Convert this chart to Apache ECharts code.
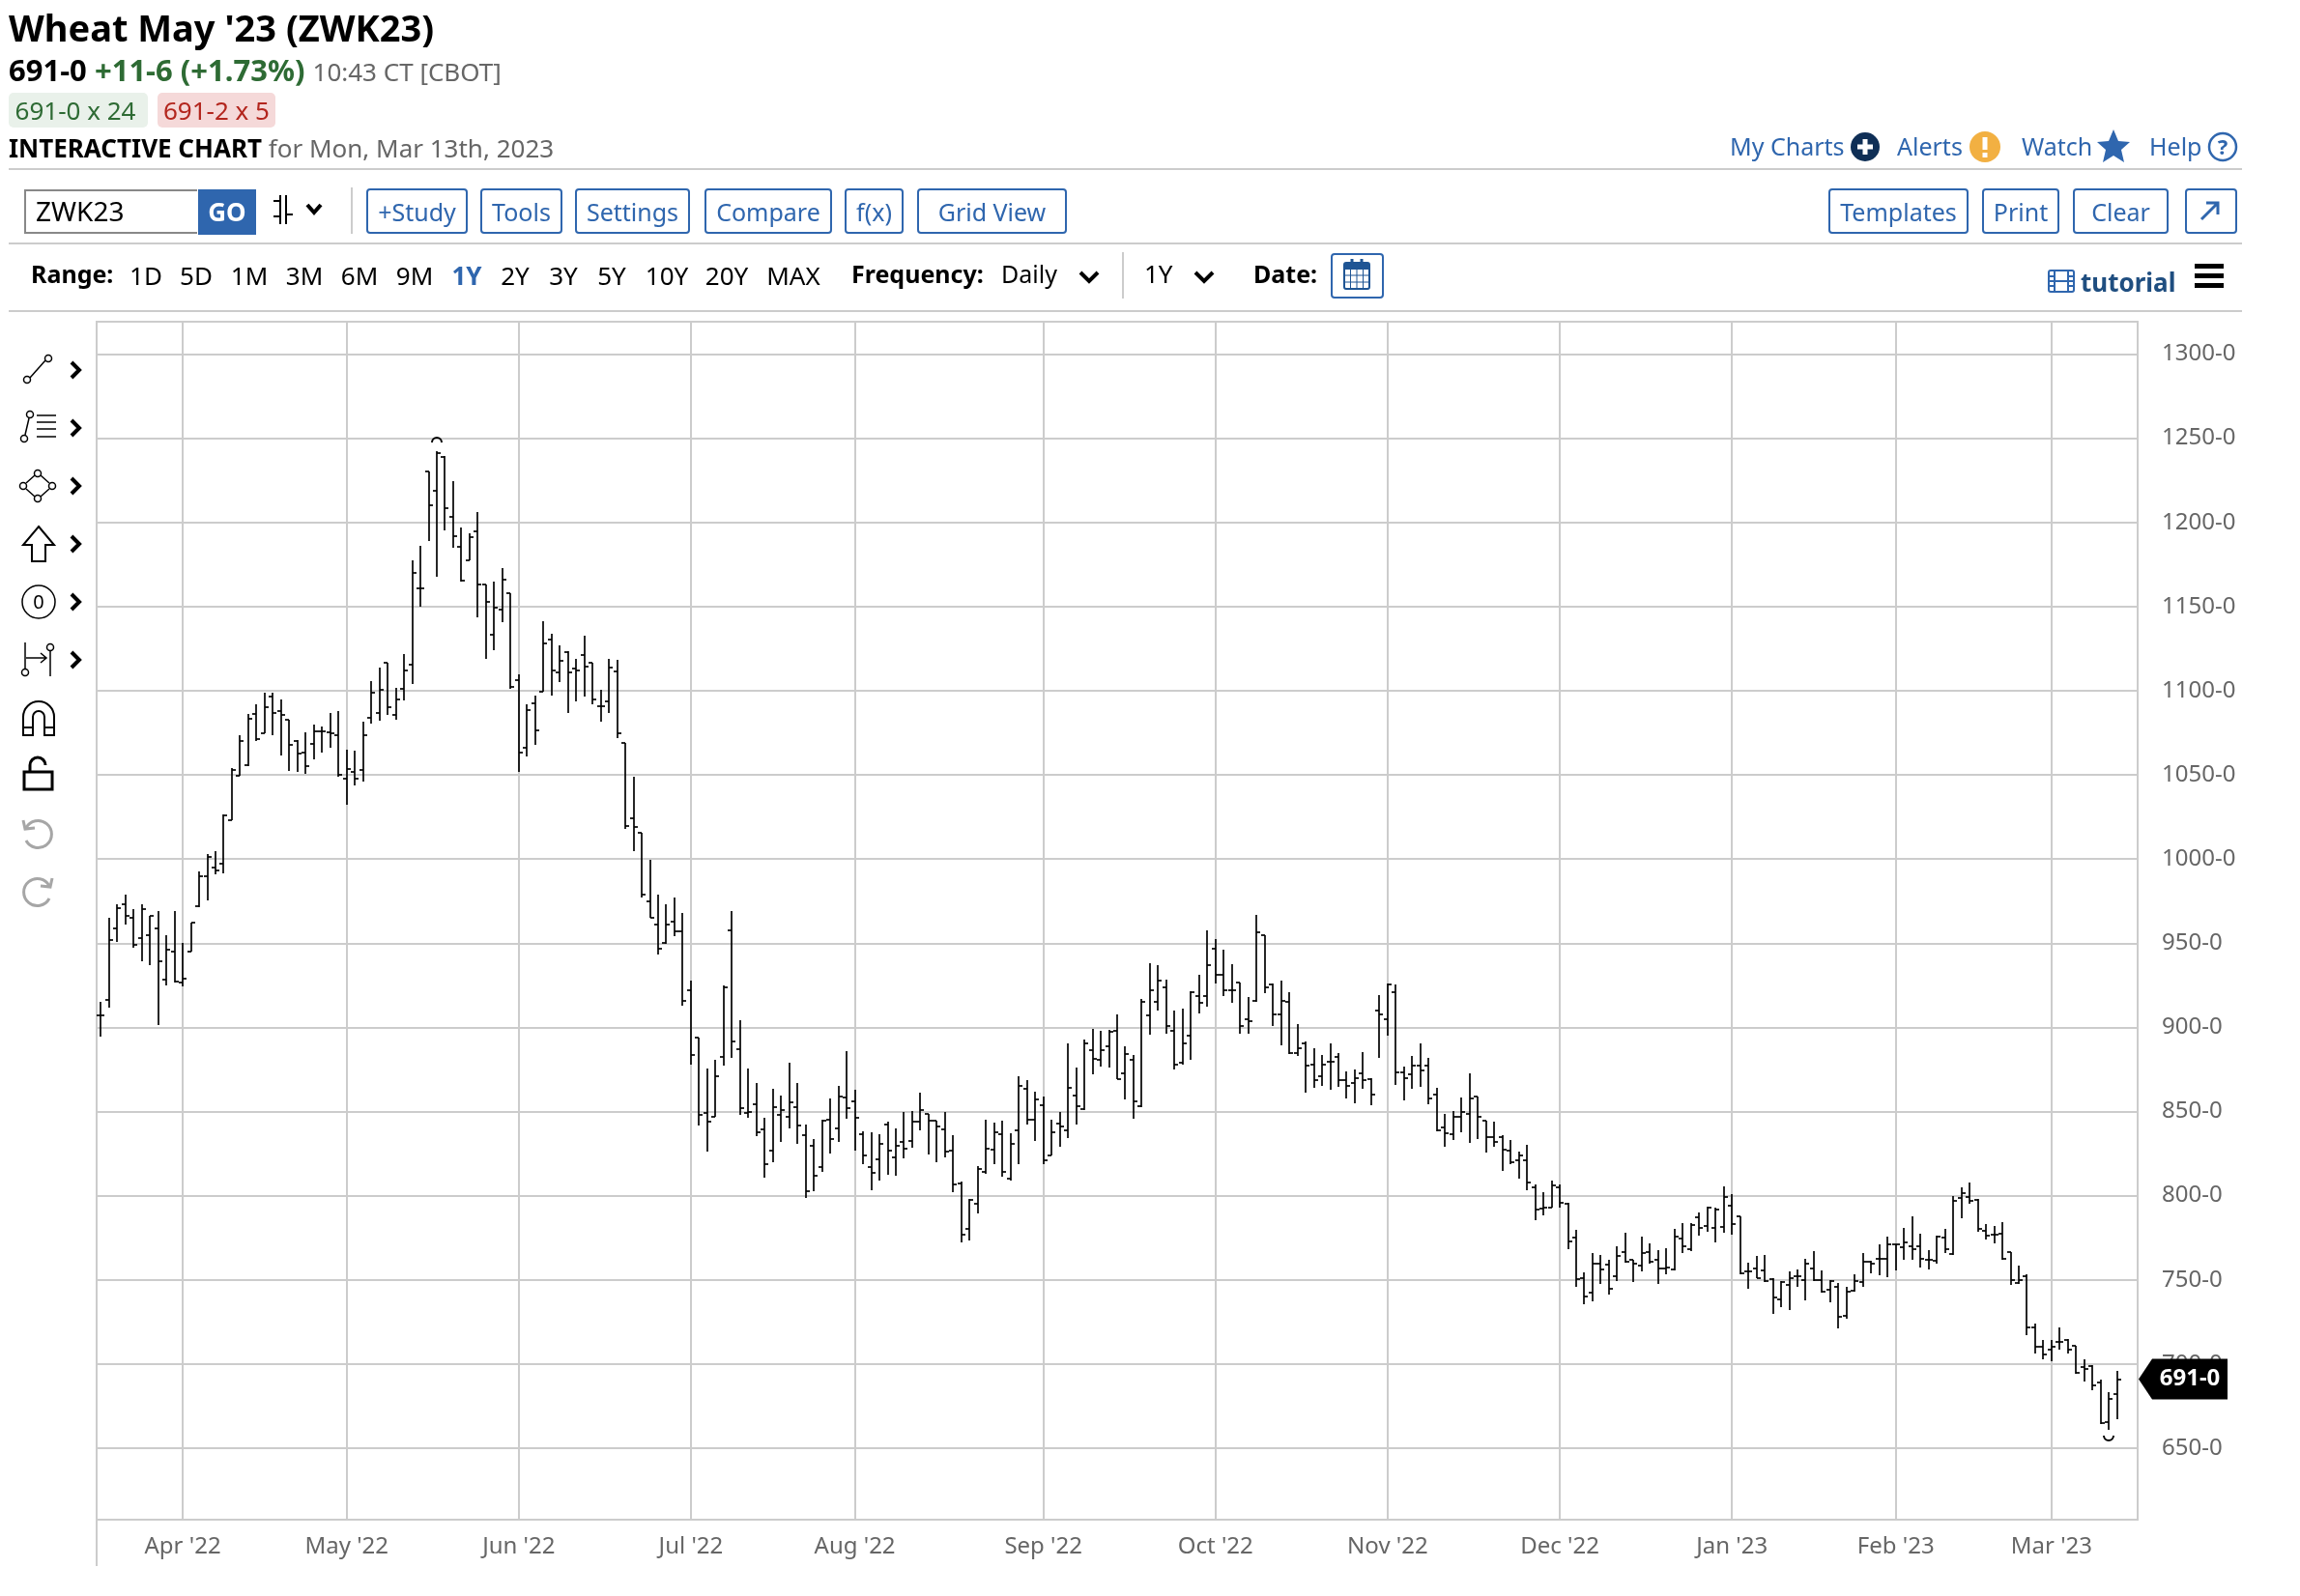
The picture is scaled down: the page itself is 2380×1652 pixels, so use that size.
<!DOCTYPE html>
<html>
<head>
<meta charset="utf-8">
<title>Wheat May '23 (ZWK23)</title>
<script src="https://cdn.jsdelivr.net/npm/echarts@6/dist/echarts.min.js"></script>
<style>
  html, body { margin: 0; padding: 0; background: #fff; }
  body { width: 2380px; height: 1652px; position: relative; overflow: hidden; font-family: "Noto Sans", sans-serif; color: #000; }
  #chart { position: absolute; left: 0; top: 0; width: 2380px; height: 1652px; }
  .t { position: absolute; white-space: nowrap; font-size: 26px; line-height: 36px; }
  .c { transform: translateX(-50%); }
  .b { font-weight: 700; }
  .grey { color: #666; }
  .blue { color: #2f66ae; }
  .hr { position: absolute; left: 9px; width: 2311px; height: 2px; background: #ccc; }
  .btn { position: absolute; top: 195px; height: 43px; border: 2px solid #2f66ae; border-radius: 4px; color: #2f66ae; font-size: 25px; line-height: 45px; text-align: center; box-sizing: content-box; }
  .chip { position: absolute; top: 96px; height: 36px; border-radius: 5px; font-size: 26px; line-height: 36px; text-align: center; }
  svg { position: absolute; overflow: visible; }
</style>
</head>
<body>
<div id="chart"></div>

<div class="t b" style="left:9px;top:3px;font-size:38px;line-height:50px">Wheat May '23 (ZWK23)</div>
<div class="t b" style="left:9px;top:51px;font-size:31px;line-height:42px">691-0 <span style="color:#2e6b34">+11-6 (+1.73%)</span> <span class="grey" style="font-weight:400;font-size:26px">10:43 CT [CBOT]</span></div>
<div class="chip" style="left:9px;width:138px;padding-right:6px;background:#e9f1ea;color:#2e6b34">691-0 x 24</div>
<div class="chip" style="left:163px;width:122px;background:#f5d9d9;color:#b3261e">691-2 x 5</div>
<div class="t" style="left:9px;top:135px"><span class="b">INTERACTIVE CHART</span> <span class="grey">for Mon, Mar 13th, 2023</span></div>

<div class="t blue" style="left:1790px;top:133px;font-size:25px">My Charts</div>
<svg style="left:1915px;top:137px" width="30" height="30"><circle cx="15" cy="15" r="15" fill="#0f2f56"/><path d="M15 7v16M7 15h16" stroke="#fff" stroke-width="5"/></svg>
<div class="t blue" style="left:1963px;top:133px;font-size:25px">Alerts</div>
<svg style="left:2038px;top:136px" width="32" height="32"><circle cx="16" cy="16" r="16" fill="#f2b042"/><path d="M16 6v13M16 22v5" stroke="#fff" stroke-width="5"/></svg>
<div class="t blue" style="left:2092px;top:133px;font-size:25px">Watch</div>
<svg style="left:2170px;top:134px" width="34" height="34"><path d="M17 0l5 12 12 1-9 8 3 13-11-7-11 7 3-13-9-8 12-1z" fill="#2f66ae"/></svg>
<div class="t blue" style="left:2224px;top:133px;font-size:25px">Help</div>
<svg style="left:2285px;top:137px" width="30" height="30"><circle cx="15" cy="15" r="14" fill="none" stroke="#2f66ae" stroke-width="2.500"/><text x="15" y="23" text-anchor="middle" font-size="22" font-weight="700" fill="#2f66ae" font-family="Noto Sans">?</text></svg>

<div class="hr" style="top:174px"></div>

<div style="position:absolute;left:25px;top:196px;width:177px;height:42px;border:2px solid #888;border-right:none"></div>
<div class="t" style="left:37px;top:200px;font-size:28px">ZWK23</div>
<div class="t b" style="left:205px;top:196px;width:60px;height:47px;background:#2f66ae;color:#fff;text-align:center;line-height:47px">GO</div>
<svg style="left:282px;top:200px" width="54" height="34"><path d="M1 24h7M8 2v30M14 2v30M14 22h7M8 8H1" stroke="#000" stroke-width="2" fill="none"/><path d="M36 12l7 8 7-8" stroke="#000" stroke-width="4" fill="none"/></svg>
<div style="position:absolute;left:363px;top:194px;width:2px;height:48px;background:#ccc"></div>
<div class="btn" style="left:379px;width:101px">+Study</div>
<div class="btn" style="left:497px;width:81px">Tools</div>
<div class="btn" style="left:595px;width:115px">Settings</div>
<div class="btn" style="left:729px;width:128px">Compare</div>
<div class="btn" style="left:874px;width:57px">f(x)</div>
<div class="btn" style="left:949px;width:151px">Grid View</div>
<div class="btn" style="left:1892px;width:141px">Templates</div>
<div class="btn" style="left:2051px;width:76px">Print</div>
<div class="btn" style="left:2145px;width:95px">Clear</div>
<div class="btn" style="left:2261px;width:50px"></div>
<svg style="left:2275px;top:207px" width="24" height="22"><path d="M3 20L19 4M8 3h12v12" stroke="#2f66ae" stroke-width="3" fill="none"/></svg>

<div class="hr" style="top:251px"></div>

<div class="t b" style="left:32px;top:265px;font-size:25px">Range:</div>
<div class="t c" style="left:151px;top:267px">1D</div>
<div class="t c" style="left:203px;top:267px">5D</div>
<div class="t c" style="left:258px;top:267px">1M</div>
<div class="t c" style="left:315px;top:267px">3M</div>
<div class="t c" style="left:372px;top:267px">6M</div>
<div class="t c" style="left:429px;top:267px">9M</div>
<div class="t c b blue" style="left:483px;top:267px">1Y</div>
<div class="t c" style="left:533px;top:267px">2Y</div>
<div class="t c" style="left:583px;top:267px">3Y</div>
<div class="t c" style="left:633px;top:267px">5Y</div>
<div class="t c" style="left:690px;top:267px">10Y</div>
<div class="t c" style="left:752px;top:267px">20Y</div>
<div class="t c" style="left:821px;top:267px">MAX</div>
<div class="t b" style="left:881px;top:265px;font-size:25px">Frequency:</div>
<div class="t" style="left:1036px;top:265px;font-size:25px">Daily</div>
<svg style="left:1116px;top:280px" width="22" height="14"><path d="M2 2l9 9 9-9" stroke="#000" stroke-width="4" fill="none"/></svg>
<div style="position:absolute;left:1161px;top:261px;width:2px;height:48px;background:#ccc"></div>
<div class="t" style="left:1184px;top:265px">1Y</div>
<svg style="left:1235px;top:280px" width="22" height="14"><path d="M2 2l9 9 9-9" stroke="#000" stroke-width="4" fill="none"/></svg>
<div class="t b" style="left:1297px;top:265px;font-size:25px">Date:</div>
<div style="position:absolute;left:1377px;top:262px;width:51px;height:43px;border:2px solid #2f66ae;border-radius:4px"></div>
<svg style="left:1390px;top:268px" width="28" height="32"><rect x="1" y="4" width="26" height="27" rx="2" fill="#fff" stroke="#1f5594" stroke-width="2"/><rect x="1" y="4" width="26" height="7" fill="#1f5594"/><path d="M9 0v7M19 0v7" stroke="#1f5594" stroke-width="3"/><path d="M1 17h26M1 24h26M7.500 11v20M14 11v20M20.500 11v20" stroke="#1f5594" stroke-width="1"/></svg>
<svg style="left:2119px;top:279px" width="28" height="24"><rect x="1" y="1" width="26" height="22" rx="2" fill="none" stroke="#2f66ae" stroke-width="2"/><path d="M7 1v22M21 1v22M1 12h26M1 7h6M1 17h6M21 7h6M21 17h6" stroke="#2f66ae" stroke-width="2"/></svg>
<div class="t b" style="left:2153px;top:274px;color:#1f4e80;font-size:26px;line-height:36px">tutorial</div>
<svg style="left:2271px;top:273px" width="30" height="25"><path d="M0 2.500h30M0 12.500h30M0 22.500h30" stroke="#000" stroke-width="5"/></svg>

<div class="hr" style="top:321px"></div>

<!-- drawing tools down the left -->
<svg style="left:24px;top:367px" width="30" height="30"><circle cx="4" cy="26" r="3.500" fill="none" stroke="#000" stroke-width="1.500"/><circle cx="26" cy="4" r="3.500" fill="none" stroke="#000" stroke-width="1.500"/><path d="M7 24L23 6" stroke="#000" stroke-width="1.500"/></svg>
<svg style="left:20px;top:425px" width="40" height="34"><circle cx="5" cy="29" r="3.500" fill="none" stroke="#000" stroke-width="1.500"/><circle cx="11" cy="4" r="3.500" fill="none" stroke="#000" stroke-width="1.500"/><path d="M6 25L10 8M18 5h20M18 12h20M18 19h20M18 27h20" stroke="#000" stroke-width="1.500"/></svg>
<svg style="left:20px;top:486px" width="38" height="34"><circle cx="4" cy="17" r="3.500" fill="none" stroke="#000" stroke-width="1.500"/><circle cx="34" cy="17" r="3.500" fill="none" stroke="#000" stroke-width="1.500"/><circle cx="19" cy="4" r="3.500" fill="none" stroke="#000" stroke-width="1.500"/><circle cx="19" cy="30" r="3.500" fill="none" stroke="#000" stroke-width="1.500"/><path d="M7 14L16 6M22 6L31 14M7 20L16 28M22 28L31 20" stroke="#000" stroke-width="1.500"/></svg>
<svg style="left:22px;top:544px" width="36" height="38"><path d="M18 1L34 20H25V37H11V20H2z" fill="none" stroke="#000" stroke-width="2"/></svg>
<svg style="left:22px;top:605px" width="36" height="36"><ellipse cx="18" cy="18" rx="17" ry="17" fill="none" stroke="#000" stroke-width="1.500"/><text x="18" y="25" text-anchor="middle" font-size="20" fill="#000" font-family="Noto Sans">0</text></svg>
<svg style="left:20px;top:665px" width="38" height="36"><circle cx="6" cy="31" r="3.500" fill="none" stroke="#000" stroke-width="1.500"/><circle cx="32" cy="5" r="3.500" fill="none" stroke="#000" stroke-width="1.500"/><path d="M6 0V27M32 9V35M7 16H27M22 11l6 5-6 5" stroke="#000" stroke-width="1.500" fill="none"/></svg>
<svg style="left:22px;top:724px" width="36" height="38"><path d="M2 37V18a16 16 0 0 1 32 0V37H24V18a6 6 0 0 0-12 0V37zM2 29H12M24 29H34" fill="none" stroke="#000" stroke-width="2"/></svg>
<svg style="left:23px;top:782px" width="34" height="38"><rect x="2" y="17" width="29" height="18" fill="none" stroke="#000" stroke-width="3"/><path d="M8 16V10a8 8 0 0 1 16 0" fill="none" stroke="#000" stroke-width="3"/></svg>
<svg style="left:22px;top:846px" width="34" height="34"><path d="M5 11A14 14 0 1 1 5 24M2 3L4 12L14 11" fill="none" stroke="#a6a6a6" stroke-width="3"/></svg>
<svg style="left:22px;top:906px" width="34" height="34"><path d="M29 11A14 14 0 1 0 29 24M32 3L30 12L20 11" fill="none" stroke="#a6a6a6" stroke-width="3"/></svg>
<svg style="left:72px;top:373px" width="14" height="20"><path d="M2 2l8 8-8 8" stroke="#000" stroke-width="4" fill="none"/></svg>
<svg style="left:72px;top:433px" width="14" height="20"><path d="M2 2l8 8-8 8" stroke="#000" stroke-width="4" fill="none"/></svg>
<svg style="left:72px;top:493px" width="14" height="20"><path d="M2 2l8 8-8 8" stroke="#000" stroke-width="4" fill="none"/></svg>
<svg style="left:72px;top:553px" width="14" height="20"><path d="M2 2l8 8-8 8" stroke="#000" stroke-width="4" fill="none"/></svg>
<svg style="left:72px;top:613px" width="14" height="20"><path d="M2 2l8 8-8 8" stroke="#000" stroke-width="4" fill="none"/></svg>
<svg style="left:72px;top:673px" width="14" height="20"><path d="M2 2l8 8-8 8" stroke="#000" stroke-width="4" fill="none"/></svg>

<div style="position:absolute;left:99px;top:1573px;width:2px;height:48px;background:#ccc"></div>

<script>
// month labels and the bar each one sits on
const tickLabels = ["Apr '22", "May '22", "Jun '22", "Jul '22", "Aug '22", "Sep '22", "Oct '22", "Nov '22", "Dec '22", "Jan '23", "Feb '23", "Mar '23"]
const tickBars = [10, 30, 51, 72, 92, 115, 136, 157, 178, 199, 219, 238]
const priceTicks = [650, 700, 750, 800, 850, 900, 950, 1000, 1050, 1100, 1150, 1200, 1250, 1300]

const opens = [
  907, 916.5, 959, 973, 965, 953, 954.5, 959, 928.5, 945,
  926.5, 945, 971.75, 990, 995, 997, 1023, 1049.75, 1056, 1086,
  1075, 1096.75, 1088, 1082.5, 1070, 1063.5, 1068.5, 1076, 1075.5, 1073.5,
  1047.75, 1052, 1052.75, 1084, 1087, 1116.5, 1085.75, 1101, 1115.5, 1161,
  1230.5, 1219, 1239, 1203.5, 1185.5, 1177.75, 1194.5, 1163, 1133.5, 1148,
  1158, 1106.25, 1066, 1092.5, 1099.5, 1130.5, 1111, 1122.75, 1113.25, 1121.5,
  1116.75, 1091, 1093.5, 1111.5, 1069, 1024.5, 1015.75, 975, 961, 950,
  963, 957, 922, 893.75, 849, 847, 882.5, 957.75, 887, 849,
  854.5, 839.5, 826.5, 848, 846.75, 852.75, 836, 829.75, 817, 845,
  840, 858.5, 856, 836.75, 817, 821.5, 842, 823, 831.75, 832.5,
  843.75, 848.5, 844.5, 839.5, 827, 807.5, 780.5, 795, 814, 827.25,
  836.25, 810, 839, 863.5, 845, 854, 824, 843, 839, 859.75,
  851.25, 886.5, 880.5, 888.5, 897.75, 872.5, 880.75, 853, 907, 915,
  924, 897.75, 879, 895, 918.5, 918.5, 946.75, 931.5, 922, 926.5,
  904.75, 915.75, 954.5, 925.5, 907.5, 915, 885, 890.5, 878, 871,
  879.75, 882.5, 868.5, 867, 872.5, 869.5, 910, 904.75, 921, 873.5,
  872, 877, 877, 860.25, 840.75, 836.5, 847, 848.5, 858.75, 844.75,
  835, 835, 827, 821, 821, 804.75, 792.5, 793, 804.75, 795,
  775, 750.75, 742.5, 759.5, 759, 752, 766.5, 761.75, 758.5, 766.5,
  761.75, 756.75, 756.25, 774.5, 768, 787, 782, 781, 781.5, 794,
  787.5, 755, 757, 755.75, 750.5, 738.5, 747.25, 752, 750, 757,
  749.75, 744, 746, 728.75, 743.5, 748.75, 760.5, 762.25, 762.75, 771,
  769.5, 770, 770, 761.75, 761.25, 775, 765.5, 798.75, 799.5, 797.75,
  779, 777, 777.25, 766.5, 748.25, 752, 722, 710, 708.5, 713,
  714.5, 711, 698.25, 698.75, 689.25, 665.5, 682
]
const highs = [
  915, 965, 973, 979, 970, 973, 966, 969, 955, 969,
  950, 962, 992.75, 1002.75, 1004.75, 1026.25, 1054, 1073.75, 1086, 1091.75,
  1098.75, 1098.75, 1095, 1082.5, 1070.5, 1075.25, 1080, 1079, 1087, 1088,
  1064.75, 1064.5, 1081.5, 1105.5, 1113.5, 1116.5, 1101.5, 1122, 1177.75, 1186,
  1230.5, 1242.5, 1239.5, 1224.75, 1197, 1193.5, 1206, 1163, 1164.75, 1173,
  1158, 1109.5, 1092, 1097, 1141.25, 1134, 1127, 1123.5, 1119, 1132.75,
  1116.75, 1100.75, 1119, 1118.5, 1069, 1048.75, 1015.75, 999.5, 979, 973,
  977, 968, 927.75, 893.75, 875.5, 881, 925, 969, 904.5, 875.5,
  867, 846, 863.5, 859.5, 878.75, 867, 842, 833.5, 845, 858,
  865.5, 886, 863, 838, 837.5, 836.5, 844, 840, 849.5, 850.5,
  861, 848.5, 844.5, 849.75, 836, 808.25, 798, 817.75, 845, 843.5,
  844.5, 837, 871, 868.5, 862, 859, 845, 850, 890.75, 876,
  893, 899, 898, 898.25, 907.5, 889, 883.75, 916.75, 938, 937,
  928.5, 910, 911, 921.75, 931.5, 957.75, 952.75, 946, 937.75, 926.5,
  918, 966.75, 954.5, 926, 928, 921, 902, 891.5, 887.5, 883.75,
  890.5, 885, 874, 875, 885.5, 869.75, 919, 926, 925.75, 876.5,
  883, 890.5, 882, 864, 848.5, 850.5, 858.5, 872.5, 858.75, 844.75,
  844, 835.75, 833, 826, 830, 806.75, 802, 809, 806.5, 795.5,
  779.75, 754.5, 766, 765, 762, 769.75, 777.75, 761.75, 775.75, 771.75,
  767.75, 768.75, 780.5, 784, 783.5, 789.75, 793.75, 793, 805.5, 800.75,
  787.5, 760, 764, 765, 751, 749.5, 755, 756.25, 762.75, 767,
  755.5, 750, 748, 746, 753.5, 766, 761.25, 771.25, 775.5, 771.25,
  781, 787.5, 777.25, 767.5, 776, 780, 800, 805, 807.75, 798,
  783, 782, 784.5, 766.5, 758.5, 753.25, 723.75, 714.5, 714, 721.75,
  715, 711, 703, 699.25, 691, 683, 695.75
]
const lows = [
  894.5, 912, 951, 961, 947.5, 939, 937, 901.5, 925, 926.5,
  924.5, 945, 971.5, 975.5, 991, 991.75, 1023, 1049.75, 1055, 1070,
  1074.5, 1073.5, 1061.75, 1052.5, 1051.75, 1050.5, 1059.5, 1063, 1066, 1048.75,
  1032.5, 1043.5, 1045.75, 1080.5, 1082, 1085.5, 1083, 1094, 1104, 1150,
  1189, 1167.75, 1195, 1184.75, 1165, 1177.25, 1143.5, 1118.75, 1124, 1141,
  1101, 1051.5, 1061, 1068, 1099.5, 1097, 1105, 1087, 1093.5, 1096.5,
  1092, 1081.5, 1086.75, 1071.75, 1018, 1004.75, 977.25, 965, 943, 949.5,
  954, 912.75, 877.75, 841.5, 826, 847, 877, 881.75, 848, 846.5,
  835.5, 810.5, 820, 832, 840, 831, 798.75, 802.75, 814, 825,
  832, 845.75, 827, 819, 803.5, 809, 812.5, 812, 822, 828.5,
  839, 824.5, 819.75, 822.5, 802, 772, 773.5, 789.25, 813, 819,
  811, 808.75, 819, 842, 832.5, 818.5, 823.75, 829, 834, 842.5,
  851, 872, 876.75, 876, 869, 857, 845.75, 852.75, 895.5, 910,
  896.5, 875, 878, 881, 908, 912.5, 926, 918.5, 914.75, 896.5,
  896, 915, 920.5, 901, 889.5, 884, 882.75, 861, 864, 865.25,
  862.75, 864.5, 858, 855, 863.5, 853.5, 881.75, 895, 866, 856.75,
  863.5, 864.5, 854.5, 838.5, 829, 833, 837.75, 831.5, 833.75, 825.5,
  829.25, 814.5, 819, 810, 803.5, 785.5, 788.25, 792.75, 792.75, 768,
  746, 735.5, 737.5, 747.5, 741, 749, 760, 748.5, 754.75, 759.5,
  747.5, 753.25, 755.75, 766, 767, 776.5, 778.75, 772.5, 778, 777,
  753.5, 744.75, 751, 748.75, 729.75, 733.75, 732.25, 745.75, 737.75, 749,
  742.5, 736.75, 721, 727, 743, 746, 753.75, 753, 751.75, 755.5,
  761.75, 761.75, 757.25, 756, 759.5, 766, 765, 786.5, 795, 778.75,
  773.75, 771.5, 762, 747, 747.75, 717, 706, 702.75, 701.75, 708.75,
  706.25, 694, 689.5, 684.25, 664.25, 661, 667.25
]
const closes = [
  907, 952, 971, 966, 949, 970, 966, 939, 946, 927,
  929, 962, 989.5, 1001.25, 993, 1026, 1052.75, 1070, 1083.5, 1071,
  1090.5, 1087, 1085.5, 1067.75, 1062.75, 1055, 1075.75, 1076, 1075, 1050,
  1053.75, 1048, 1073.5, 1099, 1100.75, 1090.5, 1094.75, 1112, 1169.75, 1161,
  1210, 1241, 1208.75, 1192, 1165.5, 1191, 1163, 1152.75, 1149.25, 1165.75,
  1102, 1063, 1088.5, 1076.25, 1128, 1112, 1118, 1111, 1112, 1114.5,
  1095, 1091, 1114, 1075, 1019.5, 1019, 979, 965, 947, 961,
  957, 915.75, 883.5, 848, 843.75, 871, 924, 891.5, 851.75, 850,
  837.5, 819, 852.75, 851, 855.75, 841.75, 802.5, 812, 844.5, 833.5,
  858.75, 851.75, 846.5, 823.75, 813.75, 831, 826.75, 829.5, 827.75, 843.75,
  851, 844.5, 841, 826, 806.5, 777, 797.5, 816, 828, 837.5,
  814, 831, 865, 845, 857, 821, 837.5, 841, 864, 853,
  890.75, 881.5, 886.5, 897.25, 869.5, 884, 856, 915, 922, 927.75,
  901, 878, 890.75, 920.75, 914.75, 936.75, 931.5, 922, 922, 900.75,
  903.5, 956.25, 924, 907.5, 915.75, 885, 887.5, 877, 868.75, 878,
  879.75, 868.5, 865.25, 869.75, 868.5, 860.25, 907.75, 925.25, 873.5, 870,
  877.5, 874.5, 858, 839, 837, 846.75, 849.5, 858, 847, 835,
  831.75, 827.5, 820, 823.75, 807.75, 792, 792.75, 806, 795.5, 773,
  750.5, 740, 759.75, 756.25, 744.5, 764, 761, 759.5, 766, 760.5,
  756.75, 757.5, 775.5, 769.75, 782.5, 781, 792.75, 792, 799, 783,
  753.75, 755, 751.25, 749.5, 739.5, 748.75, 751, 752, 759.5, 750,
  743, 749.5, 728, 742.75, 749.5, 760.75, 759.5, 762.25, 771, 771,
  772.25, 768.5, 762.5, 761.75, 775.5, 768.5, 797, 801.5, 797, 780,
  776.5, 777, 762.75, 750, 750, 721.75, 710, 705.5, 710, 713,
  708.75, 695, 697.25, 687.25, 665, 679.5, 691
]

const lastPrice = 691
const highMark = [41, 1247.5]
const lowMark = [245, 657.5]

const yMin = 607.5
const yMax = 1319.25
const blankBars = 2

const categories = opens.map((_, i) => {
  const at = tickBars.indexOf(i)
  return at >= 0 ? tickLabels[at] : String(i)
}).concat(Array(blankBars).fill(''))
const isMonth = i => tickBars.includes(i)

const barRows = opens.map((o, i) => [i, o, highs[i], lows[i], closes[i]])

const chart = echarts.init(document.getElementById('chart'), null, { renderer: 'canvas' })

chart.setOption({
  animation: false,
  textStyle: { fontFamily: '"Noto Sans", sans-serif' },
  grid: { left: 100, top: 333, width: 2112, height: 1240, show: true, borderColor: '#ccc', borderWidth: 2, backgroundColor: 'transparent' },
  xAxis: {
    type: 'category',
    data: categories,
    axisLine: { lineStyle: { color: '#ccc', width: 2 } },
    axisTick: { alignWithLabel: true, length: 10, interval: isMonth, lineStyle: { color: '#ccc', width: 2 } },
    axisLabel: { interval: isMonth, color: '#666', fontSize: 24, margin: 16 },
    splitLine: { show: true, alignWithLabel: true, interval: isMonth, lineStyle: { color: '#ccc', width: 2 } }
  },
  yAxis: {
    type: 'value',
    position: 'right',
    min: yMin,
    max: yMax,
    axisLine: { show: false },
    axisTick: { show: false, customValues: priceTicks },
    axisLabel: {
      customValues: priceTicks,
      color: '#666',
      fontSize: 24,
      margin: 25,
      padding: [2, 0, 0, 0],
      align: 'left',
      formatter: v => v + '-0'
    },
    splitLine: { lineStyle: { color: '#ccc', width: 2 } }
  },
  series: [
    {
      name: 'ZWK23',
      type: 'custom',
      data: barRows,
      encode: { x: 0, y: [1, 2, 3, 4] },
      renderItem: (params, api) => {
        const i = api.value(0)
        const x = Math.round(api.coord([i, 0])[0])
        const yOf = v => Math.round(api.coord([i, v])[1])
        const style = { stroke: '#000', lineWidth: 1.7 }
        return {
          type: 'group',
          children: [
            { type: 'line', shape: { x1: x, y1: yOf(api.value(2)), x2: x, y2: yOf(api.value(3)) }, style },
            { type: 'line', shape: { x1: x - 4, y1: yOf(api.value(1)), x2: x, y2: yOf(api.value(1)) }, style },
            { type: 'line', shape: { x1: x, y1: yOf(api.value(4)), x2: x + 4, y2: yOf(api.value(4)) }, style }
          ]
        }
      }
    },
    {
      // small caps over the year's high and under its low
      name: 'extremes',
      type: 'custom',
      data: [[highMark[0], highMark[1], 1], [lowMark[0], lowMark[1], 0]],
      encode: { x: 0, y: 1 },
      renderItem: (params, api) => {
        const p = api.coord([api.value(0), api.value(1)])
        const up = api.value(2) === 1
        return {
          type: 'arc',
          shape: { cx: Math.round(p[0]), cy: p[1], r: 5, startAngle: up ? Math.PI : 0, endAngle: up ? Math.PI * 2 : Math.PI },
          style: { stroke: '#000', lineWidth: 2, fill: null }
        }
      }
    },
    {
      name: 'last',
      type: 'custom',
      data: [[opens.length - 1, lastPrice]],
      encode: { x: 0, y: 1 },
      z: 10,
      renderItem: (params, api) => {
        const y = api.coord([api.value(0), api.value(1)])[1]
        const left = params.coordSys.x + params.coordSys.width + 1
        return {
          type: 'group',
          children: [
            { type: 'polygon', shape: { points: [[left, y], [left + 14, y - 21], [left + 92, y - 21], [left + 92, y + 21], [left + 14, y + 21]] }, style: { fill: '#000' } },
            { type: 'text', x: left + 53, y, style: { text: lastPrice + '-0', fill: '#fff', font: '700 24px "Noto Sans"', align: 'center', verticalAlign: 'middle' } }
          ]
        }
      }
    }
  ]
})
</script>
</body>
</html>
